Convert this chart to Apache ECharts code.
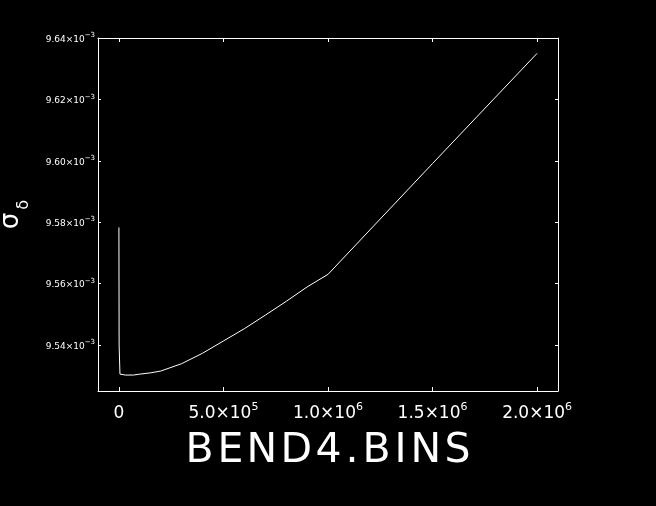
<!DOCTYPE html>
<html>
<head>
<meta charset="utf-8">
<script src="https://cdn.jsdelivr.net/npm/echarts@6/dist/echarts.min.js"></script>
<style>html,body{margin:0;padding:0;background:#000;}#c{width:656px;height:506px;}</style>
</head>
<body>
<div id="c"></div>
<script>
// Data (x: BEND4.BINS, y: sigma_delta)
var binsX = [0, 1000, 5000, 30000, 70000, 100000, 150000, 200000, 300000, 400000, 500000, 600000, 700000, 800000, 900000, 1000000, 1500000, 2000000];
var sigmaDelta = [9.5783e-3, 9.5400e-3, 9.5305e-3, 9.5302e-3, 9.5302e-3, 9.5305e-3, 9.5309e-3, 9.5315e-3, 9.5339e-3, 9.5373e-3, 9.5413e-3, 9.5453e-3, 9.5497e-3, 9.5542e-3, 9.5589e-3, 9.5630e-3, 9.5991e-3, 9.6350e-3];
var xTicks = [0, 500000, 1000000, 1500000, 2000000];
var xTickLabels = ['0', '5.0×10|5', '1.0×10|6', '1.5×10|6', '2.0×10|6'];
var yTicks = [9.54e-3, 9.56e-3, 9.58e-3, 9.60e-3, 9.62e-3, 9.64e-3];
var yTickLabels = ['9.54×10|−3', '9.56×10|−3', '9.58×10|−3', '9.60×10|−3', '9.62×10|−3', '9.64×10|−3'];
var xTitle = 'BEND4.BINS';

var xMin = -100000, xMax = 2100000;
var yMin = 9.525e-3, yMax = 9.64e-3;

function fmt(list, ticks) {
  return function (v) {
    for (var i = 0; i < ticks.length; i++) {
      if (Math.abs(v - ticks[i]) <= Math.abs(ticks[i]) * 1e-6 + 1e-12) {
        var p = list[i].split('|');
        return p.length > 1 ? '{m|' + p[0] + '}{e|' + p[1] + '}' : '{m|' + p[0] + '}';
      }
    }
    return '';
  };
}

var W = '#ffffff';
var font = 'DejaVu Sans';
var titleSize = 41, titleGapPx = 3.5;

// letter-spaced title: one rich token per character, width = natural width + spacing
var mctx = document.createElement('canvas').getContext('2d');
mctx.font = titleSize + 'px "' + font + '"';
var titleRich = {};
var spacedTitle = xTitle.split('').map(function (ch, i) {
  var key = 'c' + i;
  titleRich[key] = {
    fontFamily: font, fontSize: titleSize, color: W, align: 'left',
    width: Math.round(mctx.measureText(ch).width + (i < xTitle.length - 1 ? titleGapPx : 0))
  };
  return '{' + key + '|' + ch + '}';
}).join('');

var data = binsX.map(function (x, i) { return [x, sigmaDelta[i]]; });

var chart = echarts.init(document.getElementById('c'));
chart.setOption({
  backgroundColor: '#000000',
  animation: false,
  grid: { left: 98, right: 98, top: 38, bottom: 115, show: false, containLabel: false, outerBoundsMode: 'none' },
  xAxis: [{
    type: 'value', position: 'bottom', min: xMin, max: xMax,
    axisLine: { show: true, onZero: false, lineStyle: { color: W, width: 1 } },
    axisTick: { show: true, inside: true, length: 4, customValues: xTicks, lineStyle: { color: W } },
    splitLine: { show: false },
    axisLabel: {
      show: true, customValues: xTicks, margin: 11, color: W,
      formatter: fmt(xTickLabels, xTicks),
      rich: {
        m: { fontFamily: font, fontSize: 17, color: W, verticalAlign: 'bottom', lineHeight: 20 },
        e: { fontFamily: font, fontSize: 11, color: W, verticalAlign: 'top', lineHeight: 20, padding: [0, 0, 8, 0] }
      }
    },
    name: spacedTitle, nameLocation: 'middle', nameGap: 40,
    nameTextStyle: { color: W, rich: titleRich }
  }, {
    type: 'value', position: 'top', min: xMin, max: xMax,
    axisLine: { show: true, onZero: false, lineStyle: { color: W, width: 1 } },
    axisTick: { show: true, inside: true, length: 4, customValues: xTicks, lineStyle: { color: W } },
    splitLine: { show: false }, axisLabel: { show: false }
  }],
  yAxis: [{
    type: 'value', position: 'left', min: yMin, max: yMax,
    axisLine: { show: true, onZero: false, lineStyle: { color: W, width: 1 } },
    axisTick: { show: true, inside: true, length: 3, customValues: yTicks, lineStyle: { color: W } },
    splitLine: { show: false },
    axisLabel: {
      show: true, customValues: yTicks, margin: 3, color: W,
      formatter: fmt(yTickLabels, yTicks),
      rich: {
        m: { fontFamily: font, fontSize: 9, color: W, verticalAlign: 'bottom', lineHeight: 12 },
        e: { fontFamily: font, fontSize: 7, color: W, verticalAlign: 'top', lineHeight: 12 }
      }
    },
    name: '{s|σ}{d|δ}', nameLocation: 'middle', nameGap: 66, nameRotate: 90,
    nameTextStyle: {
      color: W,
      rich: {
        s: { fontFamily: font, fontSize: 26, color: W, verticalAlign: 'bottom', lineHeight: 30, padding: [0, 0, 8, 0] },
        d: { fontFamily: font, fontSize: 16, color: W, verticalAlign: 'bottom', lineHeight: 30, padding: [0, 0, 0, 3] }
      }
    }
  }, {
    type: 'value', position: 'right', min: yMin, max: yMax,
    axisLine: { show: true, onZero: false, lineStyle: { color: W, width: 1 } },
    axisTick: { show: true, inside: true, length: 3, customValues: yTicks, lineStyle: { color: W } },
    splitLine: { show: false }, axisLabel: { show: false }
  }],
  series: [{
    type: 'line', xAxisIndex: 0, yAxisIndex: 0, data: data,
    showSymbol: false, symbol: 'none', smooth: false,
    lineStyle: { color: W, width: 1 }, itemStyle: { color: W }
  }]
});
</script>
</body>
</html>
